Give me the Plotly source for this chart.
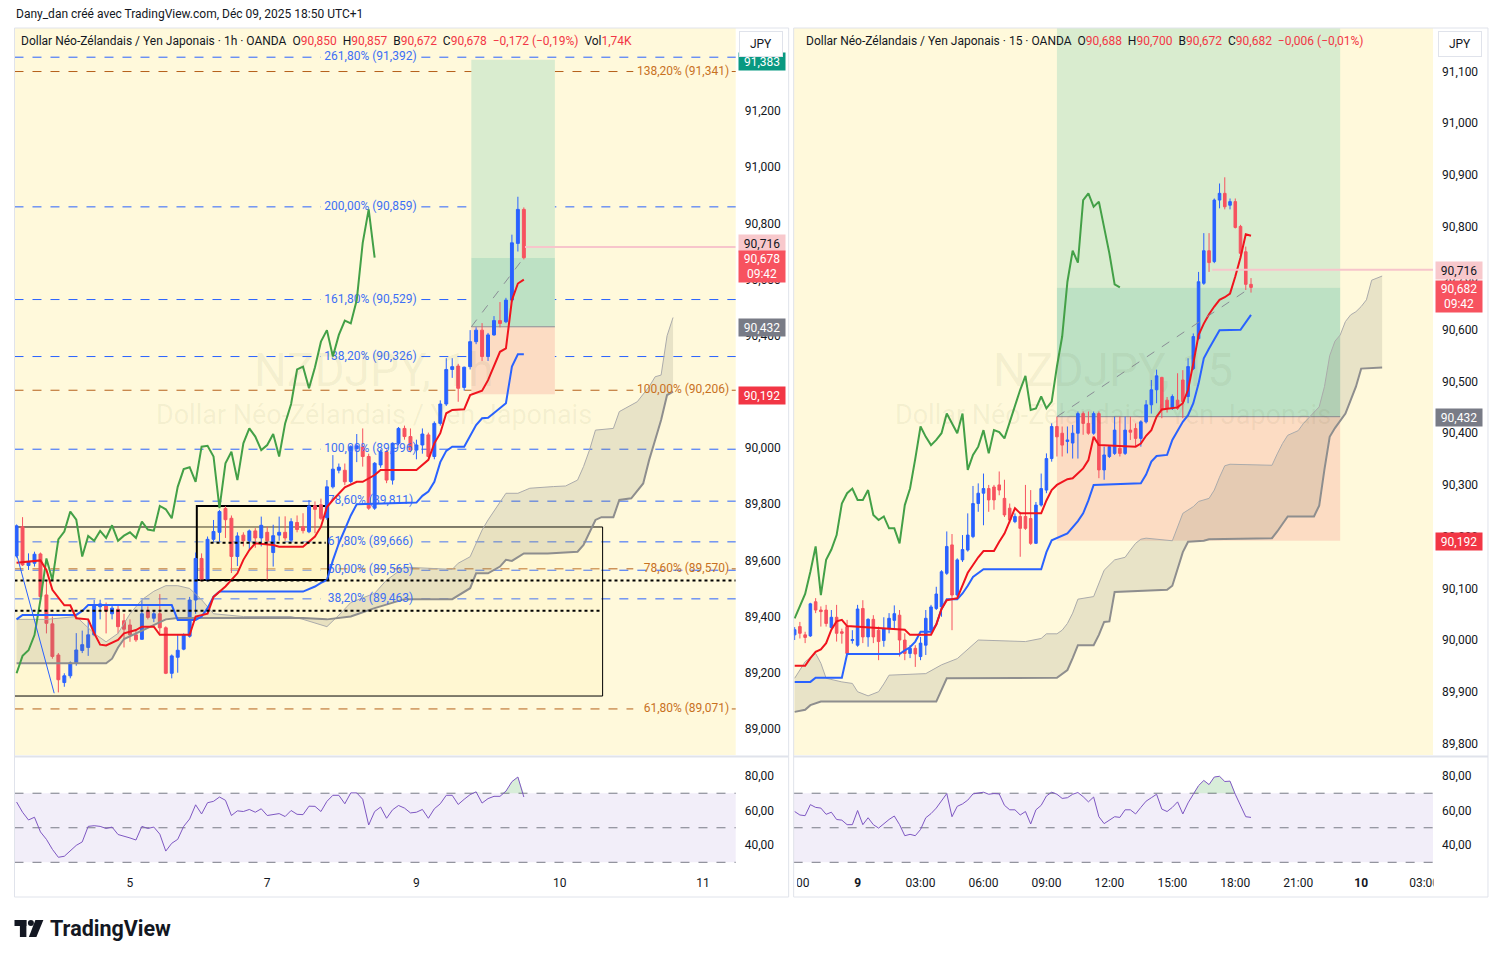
import plotly.graph_objects as go

W, H = 1498, 958
FONT = 'Roboto, "Liberation Sans", sans-serif'
INK = '#131722'
UP, DOWN = '#2962FF', '#F7525F'
YELLOW = '#FFF9DB'

# ---- NZDJPY 1h (OANDA) : bar 0 = Dec 4 05:00 UTC+1, last bar = Dec 9 18:00
h1_open = [89.616, 89.720, 89.582, 89.590, 89.623, 89.477, 89.374, 89.263, 89.165, 89.189,
           89.234, 89.279, 89.290, 89.335, 89.435, 89.440, 89.410, 89.426, 89.385, 89.370,
           89.335, 89.319, 89.420, 89.394, 89.410, 89.360, 89.198, 89.255, 89.284, 89.330,
           89.459, 89.607, 89.530, 89.675, 89.700, 89.785, 89.750, 89.614, 89.690, 89.670,
           89.705, 89.680, 89.700, 89.628, 89.690, 89.700, 89.672, 89.735, 89.720, 89.702,
           89.795, 89.798, 89.752, 89.862, 89.921, 89.921, 89.881, 89.998, 90.005, 89.970,
           89.786, 89.940, 89.987, 89.886, 90.017, 90.070, 90.041, 89.993, 90.011, 90.047,
           89.970, 90.088, 90.157, 90.280, 90.292, 90.216, 90.290, 90.379, 90.420, 90.326,
           90.403, 90.454, 90.450, 90.527, 90.729, 90.850]
h1_high = [89.728, 89.754, 89.625, 89.631, 89.628, 89.530, 89.400, 89.270, 89.198, 89.240,
           89.341, 89.350, 89.390, 89.459, 89.460, 89.450, 89.440, 89.440, 89.410, 89.390,
           89.350, 89.459, 89.436, 89.420, 89.480, 89.365, 89.265, 89.335, 89.340, 89.470,
           89.628, 89.625, 89.685, 89.744, 89.780, 89.793, 89.760, 89.700, 89.700, 89.710,
           89.715, 89.756, 89.720, 89.727, 89.756, 89.757, 89.750, 89.760, 89.768, 89.815,
           89.810, 89.820, 89.886, 89.975, 89.945, 89.945, 90.010, 90.050, 90.070, 89.980,
           89.950, 89.995, 89.995, 90.020, 90.075, 90.080, 90.070, 90.030, 90.070, 90.055,
           90.095, 90.170, 90.320, 90.320, 90.300, 90.290, 90.420, 90.430, 90.445, 90.410,
           90.470, 90.520, 90.535, 90.760, 90.895, 90.857]
h1_low = [89.610, 89.580, 89.566, 89.578, 89.450, 89.340, 89.250, 89.130, 89.150, 89.180,
          89.225, 89.270, 89.260, 89.330, 89.390, 89.340, 89.390, 89.340, 89.290, 89.310,
          89.310, 89.318, 89.390, 89.380, 89.340, 89.195, 89.180, 89.200, 89.280, 89.325,
          89.410, 89.525, 89.525, 89.667, 89.667, 89.680, 89.555, 89.580, 89.650, 89.640,
          89.645, 89.650, 89.530, 89.578, 89.670, 89.670, 89.667, 89.700, 89.696, 89.697,
          89.697, 89.744, 89.744, 89.856, 89.910, 89.868, 89.874, 89.950, 89.934, 89.780,
          89.780, 89.930, 89.875, 89.870, 90.010, 90.030, 89.985, 89.960, 89.980, 89.965,
          89.960, 90.080, 90.150, 90.250, 90.165, 90.205, 90.280, 90.370, 90.310, 90.310,
          90.400, 90.430, 90.445, 90.520, 90.700, 90.672]
h1_close = [89.723, 89.584, 89.596, 89.622, 89.471, 89.376, 89.258, 89.175, 89.189, 89.235,
            89.281, 89.300, 89.335, 89.441, 89.445, 89.420, 89.430, 89.364, 89.355, 89.335,
            89.317, 89.410, 89.397, 89.410, 89.360, 89.198, 89.260, 89.280, 89.334, 89.459,
            89.607, 89.530, 89.675, 89.703, 89.774, 89.745, 89.614, 89.687, 89.670, 89.705,
            89.680, 89.725, 89.670, 89.688, 89.700, 89.680, 89.738, 89.710, 89.706, 89.794,
            89.782, 89.750, 89.862, 89.925, 89.932, 89.880, 90.005, 90.008, 89.970, 89.786,
            89.946, 89.987, 89.886, 90.017, 90.070, 90.041, 89.993, 90.011, 90.050, 89.970,
            90.088, 90.157, 90.280, 90.290, 90.213, 90.288, 90.379, 90.420, 90.326, 90.403,
            90.454, 90.444, 90.527, 90.731, 90.850, 90.678]
h1_rsi = [64.9, 59.0, 54.5, 56.1, 47.6, 43.3, 37.5, 32.9, 33.5, 36.9,
          39.8, 41.8, 50.8, 51.2, 50.8, 49.6, 50.4, 46.1, 45.3, 44.1,
          42.9, 50.8, 49.6, 50.4, 46.3, 36.5, 41.0, 43.3, 50.8, 55.1,
          63.3, 58.0, 64.5, 65.3, 67.8, 65.9, 57.1, 59.8, 59.4, 60.6,
          59.0, 61.0, 57.1, 57.5, 58.2, 56.5, 60.0, 57.8, 57.6, 62.5,
          62.4, 59.4, 65.3, 68.8, 68.8, 63.9, 70.2, 70.2, 66.5, 51.6,
          59.4, 62.0, 55.5, 60.4, 62.9, 61.4, 58.6, 59.0, 60.6, 55.5,
          61.0, 63.9, 68.8, 68.8, 63.5, 66.5, 69.2, 70.8, 64.3, 66.9,
          68.2, 68.2, 71.2, 76.7, 79.4, 67.8]
h1_vol = '1,74K'

# ichimoku as (bar, price)
h1_tenkan = [(0, 89.592), (4, 89.600), (5, 89.566), (6, 89.495), (8, 89.440), (9, 89.440),
             (10, 89.394), (12, 89.390), (13, 89.341), (14, 89.300), (15, 89.297), (17, 89.317),
             (18, 89.340), (20, 89.352), (21, 89.364), (23, 89.364), (24, 89.335), (29, 89.335),
             (30, 89.400), (32, 89.410), (33, 89.470), (35, 89.507), (37, 89.554), (38, 89.602),
             (39, 89.637), (40, 89.661), (43, 89.655), (44, 89.649), (48, 89.649), (49, 89.667),
             (50, 89.685), (51, 89.720), (52, 89.790), (53, 89.815), (54, 89.839), (55, 89.860),
             (57, 89.880), (58, 89.880), (60, 89.904), (61, 89.922), (67, 89.922), (68, 89.940),
             (69, 89.958), (70, 90.017), (71, 90.053), (72, 90.124), (73, 90.136), (75, 90.138),
             (76, 90.189), (78, 90.204), (79, 90.242), (81, 90.343), (82, 90.355), (83, 90.527),
             (84, 90.586), (85, 90.600)]
h1_kijun = [(0, 89.390), (1, 89.406), (10, 89.406), (11, 89.420), (12, 89.441), (26, 89.441),
            (27, 89.388), (30, 89.388), (31, 89.400), (32, 89.430), (33, 89.471), (34, 89.489),
            (48, 89.489), (50, 89.507), (51, 89.520), (52, 89.530), (53, 89.600), (54, 89.661),
            (55, 89.710), (56, 89.760), (57, 89.800), (67, 89.806), (68, 89.830), (69, 89.845),
            (70, 89.880), (71, 89.950), (72, 89.990), (73, 90.005), (75, 90.005), (76, 90.041),
            (77, 90.082), (78, 90.106), (79, 90.108), (80, 90.125), (81, 90.142), (82, 90.160),
            (83, 90.290), (84, 90.334), (85, 90.334)]
h1_cloud_top = [(0, 89.390), (5, 89.390), (10, 89.400), (11, 89.380), (13, 89.340), (15, 89.310),
                (17, 89.340), (19, 89.410), (21, 89.460), (23, 89.490), (25, 89.510), (27, 89.510),
                (29, 89.500), (30, 89.480), (31, 89.460), (33, 89.410), (38, 89.400), (46, 89.400),
                (48, 89.390), (52, 89.364), (54, 89.405), (56, 89.450), (60, 89.483), (62, 89.530),
                (65, 89.576), (73, 89.568), (74, 89.590), (76, 89.613), (78, 89.708), (79, 89.744),
                (81, 89.809), (82, 89.839), (84, 89.839), (86, 89.857), (90, 89.863), (92, 89.865),
                (94, 89.886), (95, 89.934), (96, 89.993), (97, 90.064), (100, 90.070), (101, 90.130),
                (104, 90.165), (106, 90.219), (107, 90.254), (108, 90.260), (109, 90.400), (110, 90.465)]
h1_cloud_bot = [(0, 89.234), (15, 89.234), (16, 89.250), (17, 89.290), (18, 89.320), (19, 89.330),
                (21, 89.350), (23, 89.370), (25, 89.390), (27, 89.395), (48, 89.395), (52, 89.390),
                (56, 89.400), (60, 89.430), (65, 89.462), (73, 89.462), (76, 89.501), (77, 89.554),
                (79, 89.554), (81, 89.578), (82, 89.602), (83, 89.598), (85, 89.625), (89, 89.625),
                (94, 89.631), (95, 89.655), (97, 89.744), (98, 89.754), (100, 89.754), (101, 89.815),
                (103, 89.821), (105, 89.874), (106, 89.958), (107, 90.029), (108, 90.100),
                (109, 90.189), (110, 90.201)]
h1_day_idx = [19, 42, 67, 91, 115]
h1_day_lbl = ['5', '7', '9', '10', '11']

# fibonacci levels drawn on the 1h chart
fib_blue_pct = [261.8, 200.0, 161.8, 138.2, 100.0, 78.6, 61.8, 50.0, 38.2]
fib_blue_px = [91.392, 90.859, 90.529, 90.326, 89.996, 89.811, 89.666, 89.565, 89.463]
fib_org_pct = [138.2, 100.0, 78.6, 61.8]
fib_org_px = [91.341, 90.206, 89.570, 89.071]
dotted_px = [89.528, 89.421]

# ---- NZDJPY 15m : bar 0 = Dec 8 21:00 UTC+1, last bar = Dec 9 18:45
m15_open = [90.010, 90.026, 90.010, 90.008, 90.074, 90.058, 90.058, 90.024, 90.044, 90.016,
            90.026, 89.999, 89.990, 90.061, 90.006, 90.040, 90.019, 89.999, 90.022, 90.038,
            90.048, 90.000, 89.974, 89.984, 89.968, 89.990, 90.019, 90.061, 90.064, 90.129,
            90.184, 90.087, 90.155, 90.174, 90.200, 90.264, 90.284, 90.293, 90.296, 90.300,
            90.274, 90.255, 90.229, 90.239, 90.239, 90.235, 90.187, 90.261, 90.290, 90.351,
            90.413, 90.400, 90.384, 90.381, 90.400, 90.438, 90.419, 90.400, 90.438, 90.329,
            90.355, 90.361, 90.371, 90.361, 90.406, 90.409, 90.390, 90.422, 90.455, 90.484,
            90.508, 90.464, 90.448, 90.464, 90.503, 90.471, 90.525, 90.583, 90.690, 90.753,
            90.732, 90.851, 90.864, 90.841, 90.848, 90.800, 90.751, 90.688]
m15_high = [90.025, 90.035, 90.016, 90.072, 90.081, 90.065, 90.068, 90.058, 90.068, 90.022,
            90.039, 90.019, 90.068, 90.077, 90.042, 90.048, 90.026, 90.044, 90.052, 90.067,
            90.058, 90.013, 89.990, 89.990, 90.006, 90.058, 90.068, 90.103, 90.135, 90.210,
            90.205, 90.158, 90.203, 90.245, 90.298, 90.303, 90.322, 90.300, 90.300, 90.326,
            90.310, 90.264, 90.245, 90.248, 90.300, 90.290, 90.267, 90.322, 90.361, 90.419,
            90.432, 90.413, 90.413, 90.416, 90.442, 90.442, 90.442, 90.442, 90.442, 90.374,
            90.377, 90.432, 90.432, 90.432, 90.432, 90.419, 90.425, 90.464, 90.503, 90.523,
            90.509, 90.470, 90.475, 90.516, 90.522, 90.545, 90.593, 90.712, 90.787, 90.787,
            90.854, 90.883, 90.895, 90.854, 90.854, 90.803, 90.761, 90.700]
m15_low = [90.000, 90.003, 89.994, 90.006, 90.052, 90.026, 90.026, 90.022, 89.997, 89.993,
           89.974, 89.993, 89.987, 89.994, 89.987, 89.994, 89.961, 89.987, 90.013, 90.022,
           89.968, 89.961, 89.965, 89.948, 89.961, 89.971, 90.010, 90.058, 90.045, 90.126,
           90.019, 90.084, 90.151, 90.171, 90.197, 90.248, 90.222, 90.248, 90.252, 90.280,
           90.238, 90.226, 90.226, 90.161, 90.213, 90.184, 90.186, 90.258, 90.284, 90.345,
           90.355, 90.355, 90.361, 90.351, 90.351, 90.397, 90.397, 90.397, 90.313, 90.310,
           90.352, 90.358, 90.355, 90.358, 90.387, 90.374, 90.374, 90.419, 90.438, 90.458,
           90.429, 90.440, 90.445, 90.445, 90.429, 90.458, 90.522, 90.580, 90.687, 90.712,
           90.729, 90.835, 90.833, 90.833, 90.796, 90.745, 90.677, 90.672]
m15_close = [90.020, 90.013, 90.005, 90.070, 90.058, 90.055, 90.032, 90.044, 90.013, 90.013,
             89.974, 90.001, 90.060, 90.006, 90.040, 90.006, 89.997, 90.022, 90.042, 90.051,
             90.000, 89.974, 89.984, 89.973, 89.994, 90.042, 90.064, 90.089, 90.132, 90.181,
             90.087, 90.155, 90.175, 90.203, 90.264, 90.284, 90.293, 90.271, 90.271, 90.290,
             90.242, 90.232, 90.239, 90.216, 90.216, 90.187, 90.261, 90.293, 90.351, 90.413,
             90.393, 90.377, 90.387, 90.400, 90.438, 90.419, 90.400, 90.438, 90.329, 90.358,
             90.374, 90.406, 90.361, 90.406, 90.402, 90.390, 90.422, 90.455, 90.484, 90.511,
             90.445, 90.448, 90.471, 90.448, 90.461, 90.529, 90.587, 90.693, 90.753, 90.730,
             90.851, 90.864, 90.838, 90.848, 90.798, 90.748, 90.688, 90.682]
m15_rsi = [59.4, 57.4, 57.0, 63.4, 61.8, 61.4, 57.8, 59.0, 54.8, 54.4,
           51.8, 51.8, 60.0, 51.8, 55.8, 51.8, 49.8, 52.4, 54.8, 56.8,
           51.8, 45.4, 46.2, 45.4, 49.0, 55.8, 58.2, 61.4, 65.4, 69.8,
           56.4, 62.4, 63.8, 66.0, 69.6, 70.2, 70.6, 69.4, 69.8, 69.6,
           63.0, 60.4, 60.4, 57.4, 59.4, 52.2, 60.4, 63.0, 68.4, 70.6,
           69.4, 67.0, 67.4, 69.4, 70.4, 68.0, 65.0, 67.8, 56.4, 52.4,
           54.4, 56.4, 56.0, 60.4, 60.4, 58.0, 61.8, 65.4, 67.4, 69.4,
           60.8, 59.4, 61.8, 65.0, 58.0, 64.4, 69.4, 74.4, 77.4, 75.0,
           79.4, 79.8, 76.8, 77.0, 69.4, 62.4, 56.4, 56.0]

m15_tenkan = [(0, 89.950), (2, 89.950), (3, 89.965), (4, 89.977), (5, 89.982), (6, 89.994),
              (7, 90.020), (8, 90.036), (9, 90.039), (10, 90.027), (21, 90.020), (22, 90.010),
              (26, 90.010), (27, 90.030), (28, 90.060), (29, 90.077), (31, 90.081), (32, 90.106),
              (33, 90.130), (34, 90.145), (35, 90.160), (36, 90.172), (38, 90.172), (39, 90.190),
              (40, 90.206), (41, 90.230), (42, 90.255), (43, 90.245), (47, 90.245), (48, 90.270),
              (49, 90.290), (50, 90.300), (52, 90.311), (53, 90.313), (55, 90.332), (56, 90.348),
              (57, 90.393), (58, 90.377), (65, 90.374), (66, 90.380), (67, 90.395), (68, 90.406),
              (69, 90.432), (70, 90.446), (73, 90.450), (74, 90.458), (75, 90.484), (76, 90.535),
              (77, 90.590), (78, 90.612), (79, 90.630), (80, 90.645), (81, 90.658), (82, 90.663),
              (83, 90.670), (84, 90.703), (85, 90.740), (86, 90.785), (87, 90.782)]
m15_kijun = [(0, 89.919), (3, 89.919), (4, 89.927), (9, 89.927), (10, 89.973), (20, 89.973),
             (21, 89.980), (22, 89.986), (23, 89.997), (24, 90.016), (26, 90.016), (27, 90.030),
             (28, 90.060), (29, 90.079), (31, 90.079), (32, 90.090), (33, 90.105), (34, 90.122),
             (36, 90.137), (47, 90.137), (48, 90.170), (49, 90.193), (52, 90.206), (54, 90.230),
             (55, 90.245), (56, 90.270), (57, 90.300), (66, 90.303), (67, 90.320), (68, 90.345),
             (69, 90.356), (71, 90.358), (72, 90.387), (73, 90.406), (74, 90.422), (75, 90.435),
             (76, 90.458), (77, 90.496), (78, 90.545), (79, 90.564), (80, 90.583), (81, 90.599),
             (85, 90.600), (86, 90.614), (87, 90.629)]
m15_cloud_top = [(0, 89.926), (2, 89.958), (4, 89.974), (5, 89.955), (6, 89.926), (9, 89.919),
                 (11, 89.916), (12, 89.900), (14, 89.892), (16, 89.900), (17, 89.915), (18, 89.932),
                 (25, 89.935), (28, 89.952), (31, 89.964), (33, 89.982), (35, 90.000), (44, 89.997),
                 (47, 90.003), (48, 90.012), (50, 90.012), (51, 90.019), (52, 90.032), (53, 90.052),
                 (54, 90.079), (57, 90.084), (58, 90.110), (59, 90.135), (61, 90.155), (63, 90.160),
                 (64, 90.174), (65, 90.187), (66, 90.195), (67, 90.197), (72, 90.192), (73, 90.220),
                 (74, 90.245), (76, 90.258), (77, 90.268), (79, 90.274), (80, 90.290), (81, 90.315),
                 (82, 90.337), (83, 90.340), (91, 90.338), (92, 90.360), (93, 90.380), (94, 90.396),
                 (96, 90.405), (97, 90.419), (100, 90.451), (101, 90.490), (102, 90.550),
                 (103, 90.578), (104, 90.590), (105, 90.616), (106, 90.629), (107, 90.635),
                 (108, 90.645), (109, 90.658), (110, 90.696), (112, 90.704)]
m15_cloud_bot = [(0, 89.861), (2, 89.865), (3, 89.874), (5, 89.881), (27, 89.881), (28, 89.905),
                 (29, 89.926), (50, 89.927), (51, 89.935), (52, 89.942), (53, 89.965), (54, 89.990),
                 (57, 89.990), (58, 90.010), (59, 90.035), (60, 90.036), (61, 90.093), (71, 90.097),
                 (72, 90.105), (73, 90.140), (74, 90.170), (75, 90.190), (78, 90.192), (79, 90.195),
                 (91, 90.197), (92, 90.210), (94, 90.239), (99, 90.239), (100, 90.260), (101, 90.330),
                 (102, 90.393), (103, 90.410), (105, 90.438), (106, 90.464), (107, 90.490),
                 (108, 90.525), (112, 90.527)]
m15_tick_idx = [0, 12, 24, 36, 48, 60, 72, 84, 96, 108, 120]
m15_tick_lbl = ['21:00', '<b>9</b>', '03:00', '06:00', '09:00', '12:00', '15:00', '18:00',
                '21:00', '<b>10</b>', '03:00']

# long position tool and alert
TARGET, ENTRY, STOP = 91.383, 90.432, 90.192
ALERT = 90.716
TOOL_H1 = (76.2, 90.2)
TOOL_M15 = (50, 104)
SHIFT = 25

L_X, L_Y = [-0.35, 120.5], [88.907, 91.496]
R_X, R_Y = [-0.19, 121.7], [89.7776, 91.1838]
RSI_Y = [26.7, 90.4]

# the photographed page came out squeezed sideways (x_out ~ 12.6 + 0.9876 x), undo it
OX, SX = 12.6, 0.9876


def px(x):
    return max((x - OX) / SX, 0.5) / W


def py(y):
    return 1 - y / H


def num(v, d=3):
    return f'{v:.{d}f}'.replace('.', ',').replace('-', '−')


def unzip(pairs):
    return [p[0] for p in pairs], [p[1] for p in pairs]


fig = go.Figure()
shapes, notes = [], []


def add_cloud(xa, ya, ctop, cbot):
    tx, ty = unzip(ctop)
    bx, by = unzip(cbot)
    fig.add_trace(go.Scatter(x=tx + bx[::-1], y=ty + by[::-1], fill='toself',
                             fillcolor='rgba(128,128,110,0.18)', line=dict(width=0),
                             mode='lines', xaxis=xa, yaxis=ya, hoverinfo='skip'))
    fig.add_trace(go.Scatter(x=tx, y=ty, mode='lines', line=dict(color='#ABABAB', width=1),
                             xaxis=xa, yaxis=ya))
    fig.add_trace(go.Scatter(x=bx, y=by, mode='lines', line=dict(color='#8E8E8E', width=2),
                             xaxis=xa, yaxis=ya))


def add_lines(xa, ya, xr, ya2, o, h, l, c, tenkan, kijun, rsi):
    n = len(c)
    fig.add_trace(go.Candlestick(x=list(range(n)), open=o, high=h, low=l, close=c,
                                 increasing=dict(line=dict(color=UP, width=1), fillcolor=UP),
                                 decreasing=dict(line=dict(color=DOWN, width=1), fillcolor=DOWN),
                                 whiskerwidth=0, xaxis=xa, yaxis=ya))
    fig.add_trace(go.Scatter(x=[k - SHIFT for k in range(SHIFT, n)], y=c[SHIFT:], mode='lines',
                             line=dict(color='#43A047', width=2), xaxis=xa, yaxis=ya))
    kx, ky = unzip(kijun)
    fig.add_trace(go.Scatter(x=kx, y=ky, mode='lines', line=dict(color='#2962FF', width=2),
                             xaxis=xa, yaxis=ya))
    tx, ty = unzip(tenkan)
    fig.add_trace(go.Scatter(x=tx, y=ty, mode='lines', line=dict(color='#F0141E', width=2),
                             xaxis=xa, yaxis=ya))
    # rsi pane
    fig.add_trace(go.Scatter(x=list(range(n)), y=[70] * n, mode='lines', line=dict(width=0),
                             xaxis=xr, yaxis=ya2))
    fig.add_trace(go.Scatter(x=list(range(n)), y=[max(v, 70) for v in rsi], mode='lines',
                             line=dict(width=0), fill='tonexty',
                             fillcolor='rgba(76,175,80,0.22)', xaxis=xr, yaxis=ya2))
    fig.add_trace(go.Scatter(x=list(range(n)), y=rsi, mode='lines',
                             line=dict(color='#7E57C2', width=1), xaxis=xr, yaxis=ya2))


# background + position tools (below traces)
for xa, ya, xr, yr, tool, cl in [('x', 'y', 'x2', 'y2', TOOL_H1, h1_close[-1]),
                                 ('x3', 'y3', 'x4', 'y4', TOOL_M15, m15_close[-1])]:
    shapes.append(dict(type='rect', xref=f'{xa} domain', yref=f'{ya} domain', x0=0, x1=1, y0=0,
                       y1=1, fillcolor=YELLOW, line=dict(width=0), layer='below'))
    shapes.append(dict(type='rect', xref=f'{xr} domain', yref=yr, x0=0, x1=1, y0=30, y1=70,
                       fillcolor='rgba(126,87,194,0.1)', line=dict(width=0), layer='below'))
    for lv in [70, 50, 30]:
        shapes.append(dict(type='line', xref=f'{xr} domain', yref=yr, x0=0, x1=1, y0=lv, y1=lv,
                           line=dict(color='#787B86', width=1, dash='dash'), layer='below'))
    shapes.append(dict(type='rect', xref=xa, yref=ya, x0=tool[0], x1=tool[1], y0=cl, y1=TARGET,
                       fillcolor='#D9ECCF', line=dict(width=0), layer='below'))
    shapes.append(dict(type='rect', xref=xa, yref=ya, x0=tool[0], x1=tool[1], y0=ENTRY, y1=cl,
                       fillcolor='#BDE1C4', line=dict(width=0), layer='below'))
    shapes.append(dict(type='rect', xref=xa, yref=ya, x0=tool[0], x1=tool[1], y0=STOP, y1=ENTRY,
                       fillcolor='#FCDCC3', line=dict(width=0), layer='below'))
    shapes.append(dict(type='line', xref=xa, yref=ya, x0=tool[0], x1=tool[1], y0=ENTRY, y1=ENTRY,
                       line=dict(color='#8A8D96', width=1), layer='below'))

# 1h drawings
for lv in fib_blue_px:
    for a, b in [(0, 0.4248), (0.5641, 1)]:
        shapes.append(dict(type='line', xref='x domain', yref='y', x0=a, x1=b, y0=lv, y1=lv,
                           line=dict(color='#2962FF', width=1, dash='dash'), layer='below'))
for lv in fib_org_px:
    for a, b in [(0, 0.858), (0.9945, 1)]:
        shapes.append(dict(type='line', xref='x domain', yref='y', x0=a, x1=b, y0=lv, y1=lv,
                           line=dict(color='#B5601A', width=1, dash='dash'), layer='below'))
shapes.append(dict(type='rect', xref='x', yref='y', x0=-5, x1=98.2, y0=89.117, y1=89.719,
                   fillcolor='rgba(255,238,160,0.15)', line=dict(color='black', width=1),
                   layer='below'))
shapes.append(dict(type='rect', xref='x', yref='y', x0=30.2, x1=52.2, y0=89.530, y1=89.794,
                   fillcolor='rgba(255,238,160,0.25)', line=dict(color='black', width=2),
                   layer='below'))

for i, (xa, ya, xr, yr, o, h, l, c, tk, kj, ct, cb, rs) in enumerate([
        ('x', 'y', 'x2', 'y2', h1_open, h1_high, h1_low, h1_close, h1_tenkan, h1_kijun,
         h1_cloud_top, h1_cloud_bot, h1_rsi),
        ('x3', 'y3', 'x4', 'y4', m15_open, m15_high, m15_low, m15_close, m15_tenkan, m15_kijun,
         m15_cloud_top, m15_cloud_bot, m15_rsi)]):
    add_cloud(xa, ya, ct, cb)
    if i == 0:
        fig.add_trace(go.Scatter(x=[59.3] * len(fib_blue_px), y=fib_blue_px, mode='text',
                                 text=[f'{num(p, 2)}% ({num(v)})' for p, v in
                                       zip(fib_blue_pct, fib_blue_px)],
                                 textfont=dict(color='#3D6FF5', size=12, family=FONT),
                                 xaxis='x', yaxis='y'))
        fig.add_trace(go.Scatter(x=[119.4] * len(fib_org_px), y=fib_org_px, mode='text',
                                 textposition='middle left',
                                 text=[f'{num(p, 2)}% ({num(v)})' for p, v in
                                       zip(fib_org_pct, fib_org_px)],
                                 textfont=dict(color='#C8711F', size=12, family=FONT),
                                 xaxis='x', yaxis='y'))
    add_lines(xa, ya, xr, yr, o, h, l, c, tk, kj, rs)

# drawings above the candles
for lv, x1 in zip(dotted_px, [L_X[1], 98.2]):
    shapes.append(dict(type='line', xref='x', yref='y', x0=L_X[0], x1=x1, y0=lv, y1=lv,
                       line=dict(color='black', width=2, dash='dot')))
shapes.append(dict(type='line', xref='x', yref='y', x0=32.5, x1=51.8, y0=89.663, y1=89.663,
                   line=dict(color='black', width=2, dash='dot')))
shapes.append(dict(type='line', xref='x', yref='y', x0=-0.05, x1=6.3, y0=89.626, y1=89.127,
                   line=dict(color='#2962FF', width=1)))
for xa, ya, tool, n, cl, a0, xmax in [('x', 'y', TOOL_H1, len(h1_close), h1_close[-1], 85.2, L_X[1]),
                                      ('x3', 'y3', TOOL_M15, len(m15_close), m15_close[-1], 79.6,
                                       R_X[1])]:
    shapes.append(dict(type='line', xref=xa, yref=ya, x0=tool[0], x1=n - 1, y0=ENTRY, y1=cl,
                       line=dict(color='#8A8D96', width=1, dash='dash')))
    shapes.append(dict(type='line', xref=xa, yref=ya, x0=a0, x1=xmax, y0=ALERT, y1=ALERT,
                       line=dict(color='#F7C5CB', width=2)))

# tick label masks, pane frames
shapes.append(dict(type='rect', xref='paper', yref='paper', x0=px(770), x1=px(796.5), y0=py(893),
                   y1=py(872), fillcolor='white', line=dict(width=0)))
shapes.append(dict(type='rect', xref='paper', yref='paper', x0=px(1433.5), x1=px(1452), y0=py(893),
                   y1=py(872), fillcolor='white', line=dict(width=0)))
for x0, x1 in [(10, 788), (793, 1488)]:
    shapes.append(dict(type='rect', xref='paper', yref='paper', x0=px(x0), x1=px(x1), y0=py(897),
                       y1=py(28), line=dict(color='#E0E3EB', width=1)))
    shapes.append(dict(type='line', xref='paper', yref='paper', x0=px(x0), x1=px(x1), y0=py(756.5),
                       y1=py(756.5), line=dict(color='#E0E3EB', width=2)))

# tradingview logo
shapes.append(dict(type='rect', xref='paper', yref='paper', x0=px(13), x1=px(25), y0=py(926),
                   y1=py(920), fillcolor=INK, line=dict(width=0)))
shapes.append(dict(type='rect', xref='paper', yref='paper', x0=px(18.5), x1=px(25), y0=py(937),
                   y1=py(920), fillcolor=INK, line=dict(width=0)))
shapes.append(dict(type='circle', xref='paper', yref='paper', x0=px(26.5), x1=px(32.5), y0=py(926),
                   y1=py(920), fillcolor=INK, line=dict(width=0)))
shapes.append(dict(type='path', xref='paper', yref='paper',
                   path=f'M {px(34)} {py(920)} L {px(42)} {py(920)} L {px(35)} {py(937)} '
                        f'L {px(27.5)} {py(937)} Z', fillcolor=INK, line=dict(width=0)))


def red(s):
    return f"<span style='color:#F23645'>{s}</span>"


SP = '\u00a0\u00a0'
chg_h1 = h1_close[-1] - h1_close[-2]
chg_m15 = m15_close[-1] - m15_close[-2]
hdr_h1 = (f'Dollar Néo-Zélandais / Yen Japonais · 1h · OANDA{SP}O{red(num(h1_open[-1]))}{SP}'
          f'H{red(num(h1_high[-1]))}{SP}B{red(num(h1_low[-1]))}{SP}C{red(num(h1_close[-1]))}{SP}'
          f'{red(num(chg_h1) + " (" + num(chg_h1 / h1_close[-2] * 100, 2) + "%)")}{SP}'
          f'Vol{red(h1_vol)}')
hdr_m15 = (f'Dollar Néo-Zélandais / Yen Japonais · 15 · OANDA{SP}O{red(num(m15_open[-1]))}{SP}'
           f'H{red(num(m15_high[-1]))}{SP}B{red(num(m15_low[-1]))}{SP}C{red(num(m15_close[-1]))}'
           f'{SP}{red(num(chg_m15) + " (" + num(chg_m15 / m15_close[-2] * 100, 2) + "%)")}')


def note(x, y, text, size=12, color=INK, xanchor='center', **kw):
    return dict(xref='paper', yref='paper', x=px(x), y=py(y), xanchor=xanchor, yanchor='middle',
                text=text, showarrow=False, font=dict(size=size, color=color, family=FONT), **kw)


notes.append(note(10, 14, 'Dany_dan créé avec TradingView.com, Déc 09, 2025 18:50 UTC+1',
                  xanchor='left'))
for x, t in [(18, hdr_h1), (803, hdr_m15)]:
    notes.append(note(x, 41, t, size=12, xanchor='left'))
for cx, name in [(372.5, 'NZDJPY, 1h'), (1113, 'NZDJPY, 15')]:
    notes.append(note(cx, 370, name, size=46, color='rgba(90,90,40,0.07)'))
    notes.append(note(cx, 415, 'Dollar Néo-Zélandais / Yen Japonais', size=27,
                      color='rgba(90,90,40,0.07)'))


def badge(cx, ya, y, text, bg, fg='white', shift=0, h=15):
    return dict(xref='paper', yref=ya, x=px(cx), y=y, xanchor='center', yanchor='middle',
                text=text, showarrow=False, bgcolor=bg, width=44, height=h, yshift=shift,
                borderpad=1, font=dict(size=12, color=fg, family=FONT))


notes.append(badge(761, 'y', TARGET, num(TARGET), '#089981', shift=-2))
for cx, ya, cl, s_alert, s_cl in [(761, 'y', h1_close[-1], 4, -9),
                                  (1459, 'y3', m15_close[-1], -1, -9)]:
    notes.append(badge(cx, ya, ALERT, num(ALERT), '#F8C8CC', fg=INK, shift=s_alert))
    notes.append(badge(cx, ya, cl, f'{num(cl)}<br>09:42', '#F7525F', shift=s_cl, h=29))
    notes.append(badge(cx, ya, ENTRY, num(ENTRY), '#787B86', shift=-1))
    notes.append(badge(cx, ya, STOP, num(STOP), '#F23645', shift=-1))
for cx in [760.5, 1459.5]:
    notes.append(note(cx, 44, 'JPY', bgcolor='white', bordercolor='#E0E3EB', borderwidth=1,
                      width=40, height=22))
notes.append(note(47, 928, '<b>TradingView</b>', size=21.5, xanchor='left'))

L_DOM = [px(10), px(735)]
R_DOM = [px(793), px(1433)]
MAIN_DOM = [py(755), py(28)]
RSI_DOM = [py(868), py(758)]
tick_font = dict(size=12, color=INK, family=FONT)


def xaxis(dom, rng, anchor, **kw):
    return dict(domain=dom, range=rng, anchor=anchor, showgrid=False, zeroline=False,
                showline=False, ticks='', rangeslider=dict(visible=False), tickfont=tick_font, **kw)


def yaxis(dom, rng, anchor, dtick, fmt):
    return dict(domain=dom, range=rng, anchor=anchor, side='right', showgrid=False,
                zeroline=False, showline=False, ticks='', dtick=dtick, tick0=0, tickformat=fmt,
                tickfont=tick_font, ticklabelstandoff=8)


fig.update_layout(
    width=W, height=H, margin=dict(l=0, r=0, t=0, b=0), paper_bgcolor='white',
    plot_bgcolor='white', showlegend=False, separators=', ', hovermode=False,
    xaxis=xaxis(L_DOM, L_X, 'y', showticklabels=False),
    xaxis2=xaxis(L_DOM, L_X, 'y2', tickmode='array', tickvals=h1_day_idx, ticktext=h1_day_lbl,
                 ticklabelstandoff=6),
    xaxis3=xaxis(R_DOM, R_X, 'y3', showticklabels=False),
    xaxis4=xaxis(R_DOM, R_X, 'y4', tickmode='array', tickvals=m15_tick_idx,
                 ticktext=m15_tick_lbl, ticklabelstandoff=6),
    yaxis=yaxis(MAIN_DOM, L_Y, 'x', 0.2, '.3f'),
    yaxis2=yaxis(RSI_DOM, RSI_Y, 'x2', 20, '.2f'),
    yaxis3=yaxis(MAIN_DOM, R_Y, 'x3', 0.1, '.3f'),
    yaxis4=yaxis(RSI_DOM, RSI_Y, 'x4', 20, '.2f'),
    shapes=shapes, annotations=notes,
)

# page body margin would offset the figure by 8px
fig.write_html('out.html', config={'displayModeBar': False},
               post_script="document.body.style.margin='0';"
                           "document.body.style.overflow='hidden';")
